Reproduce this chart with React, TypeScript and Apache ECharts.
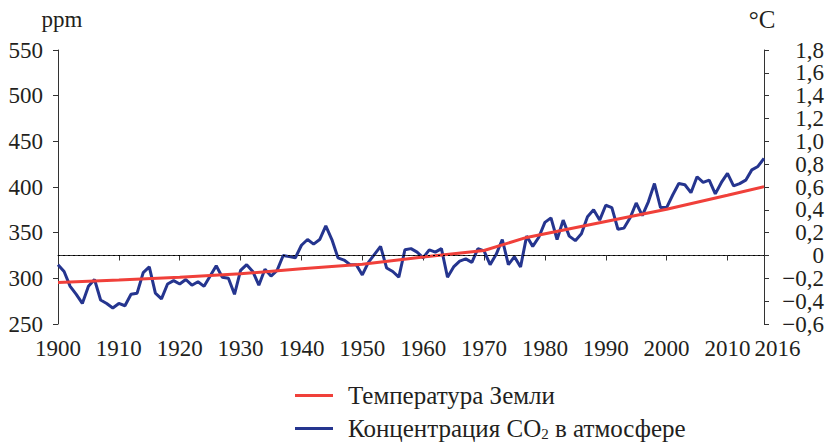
import React, { useEffect, useRef } from "react";
import * as echarts from "echarts";

const FIRST_YEAR = 1900;
const xTickValues = [1900, 1910, 1920, 1930, 1940, 1950, 1960, 1970, 1980, 1990, 2000, 2010, 2016];

const redName = "Температура Земли";
const blueName = "Концентрация CO₂ в атмосфере";

// red line (left axis, ppm)
const redYears = [1900, 1910, 1920, 1930, 1940, 1950, 1960, 1970, 1977, 1990, 2000, 2010, 2016];
const redValues = [295.5, 298.2, 301.3, 305.0, 310.5, 315.3, 323.3, 330.5, 344.8, 362.2, 375.6, 391.0, 400.4];

// blue line (right axis, °C), yearly from 1900 to 2016
const blueValues = [
  -0.08, -0.14, -0.27, -0.34, -0.42, -0.27, -0.21, -0.39, -0.42, -0.46,
  -0.42, -0.44, -0.34, -0.33, -0.15, -0.10, -0.33, -0.38, -0.25, -0.22,
  -0.25, -0.21, -0.26, -0.23, -0.27, -0.18, -0.09, -0.19, -0.20, -0.34,
  -0.13, -0.08, -0.14, -0.26, -0.12, -0.18, -0.13, 0.00, -0.01, -0.02,
  0.09, 0.14, 0.10, 0.14, 0.26, 0.14, -0.02, -0.04, -0.08, -0.08,
  -0.17, -0.06, 0.01, 0.08, -0.11, -0.14, -0.19, 0.05, 0.06, 0.03,
  -0.02, 0.05, 0.03, 0.06, -0.19, -0.10, -0.05, -0.03, -0.06, 0.06,
  0.04, -0.08, 0.01, 0.14, -0.08, -0.01, -0.10, 0.17, 0.08, 0.16,
  0.29, 0.33, 0.14, 0.31, 0.17, 0.13, 0.19, 0.34, 0.40, 0.31,
  0.44, 0.42, 0.23, 0.24, 0.33, 0.46, 0.35, 0.47, 0.63, 0.42,
  0.42, 0.53, 0.63, 0.62, 0.55, 0.69, 0.64, 0.66, 0.54, 0.64,
  0.72, 0.61, 0.63, 0.66, 0.75, 0.78, 0.85,
];

const leftTicks = { min: 250, max: 550, interval: 50 };
const rightTicks = { min: -0.6, max: 1.8, interval: 0.2 };

const FONT = "Liberation Serif";
const TEXT = "#231f20";
const AXIS = "#333333";

export default function App() {
  const ref = useRef<HTMLDivElement>(null);

  useEffect(() => {
    document.body.style.margin = "0";
    if (!ref.current) return;
    const chart = echarts.init(ref.current, undefined, { renderer: "svg" });

    const blueData = blueValues.map((v, i) => [FIRST_YEAR + i, v]);
    const redData = redYears.map((y, i) => [y, redValues[i]]);
    const lastYear = xTickValues[xTickValues.length - 1];

    const axisCommon = {
      axisLine: { show: true, lineStyle: { color: AXIS, width: 1 } },
      splitLine: { show: false },
    };

    chart.setOption({
      animation: false,
      textStyle: { fontFamily: FONT },
      grid: { left: 58, right: 63, top: 50, bottom: 119, containLabel: false },
      graphic: [
        {
          type: "text",
          x: 62,
          y: 19,
          style: { text: "ppm", fontFamily: FONT, fontSize: 23, fill: TEXT, align: "center", verticalAlign: "middle" },
        },
        {
          type: "text",
          x: 762,
          y: 19,
          style: { text: "°C", fontFamily: FONT, fontSize: 25, fill: TEXT, align: "center", verticalAlign: "middle" },
        },
      ],
      legend: {
        orient: "vertical",
        left: 295,
        top: 383,
        padding: 0,
        icon: "rect",
        itemWidth: 38,
        itemHeight: 3,
        itemGap: 8,
        data: [redName, blueName],
        textStyle: {
          fontFamily: FONT,
          fontSize: 25,
          color: TEXT,
          padding: [0, 0, 0, 10],
          rich: {
            a: { fontFamily: FONT, fontSize: 25, color: TEXT, lineHeight: 25 },
            s: { fontFamily: FONT, fontSize: 15, color: TEXT, verticalAlign: "bottom", lineHeight: 7 },
          },
        },
        formatter: (name: string) =>
          name === blueName ? "{a|Концентрация CO}{s|2}{a| в атмосфере}" : name,
      },
      xAxis: {
        type: "value",
        min: 1900,
        max: 2016,
        interval: 10,
        ...axisCommon,
        axisTick: { show: true, length: 5, lineStyle: { color: AXIS }, customValues: xTickValues },
        axisLabel: {
          fontFamily: FONT,
          fontSize: 23,
          color: TEXT,
          margin: 13,
          showMaxLabel: true,
          showMinLabel: true,
          customValues: xTickValues,
          formatter: (v: number) => {
            const s = String(Math.round(v));
            return Math.round(v) === lastYear ? "{r|" + s + "}" : s;
          },
          rich: {
            r: { fontFamily: FONT, fontSize: 23, color: TEXT, padding: [0, 0, 0, 27] },
          },
        },
      },
      yAxis: [
        {
          type: "value",
          position: "left",
          min: leftTicks.min,
          max: leftTicks.max,
          interval: leftTicks.interval,
          ...axisCommon,
          axisTick: { show: true, length: 5, lineStyle: { color: AXIS } },
          axisLabel: { fontFamily: FONT, fontSize: 23, color: TEXT, margin: 15 },
        },
        {
          type: "value",
          position: "right",
          min: rightTicks.min,
          max: rightTicks.max,
          interval: rightTicks.interval,
          ...axisCommon,
          axisTick: { show: true, length: 5, lineStyle: { color: AXIS } },
          axisLabel: {
            fontFamily: FONT,
            fontSize: 23,
            color: TEXT,
            margin: 60,
            align: "right",
            formatter: (v: number) =>
              Math.abs(v) < 1e-9 ? "0" : v.toFixed(1).replace(".", ",").replace("-", "−"),
          },
        },
      ],
      series: [
        {
          name: blueName,
          type: "line",
          yAxisIndex: 1,
          data: blueData,
          symbol: "none",
          lineStyle: { color: "#25358f", width: 3 },
          itemStyle: { color: "#25358f" },
          z: 2,
          markLine: {
            silent: true,
            symbol: "none",
            label: { show: false },
            lineStyle: { color: "#000000", type: [2, 3], width: 1 },
            data: [{ yAxis: 0 }],
          },
        },
        {
          name: redName,
          type: "line",
          yAxisIndex: 0,
          data: redData,
          symbol: "none",
          lineStyle: { color: "#f0403a", width: 3 },
          itemStyle: { color: "#f0403a" },
          z: 3,
        },
      ],
    });

    return () => chart.dispose();
  }, []);

  return <div ref={ref} style={{ width: 827, height: 443 }} />;
}
